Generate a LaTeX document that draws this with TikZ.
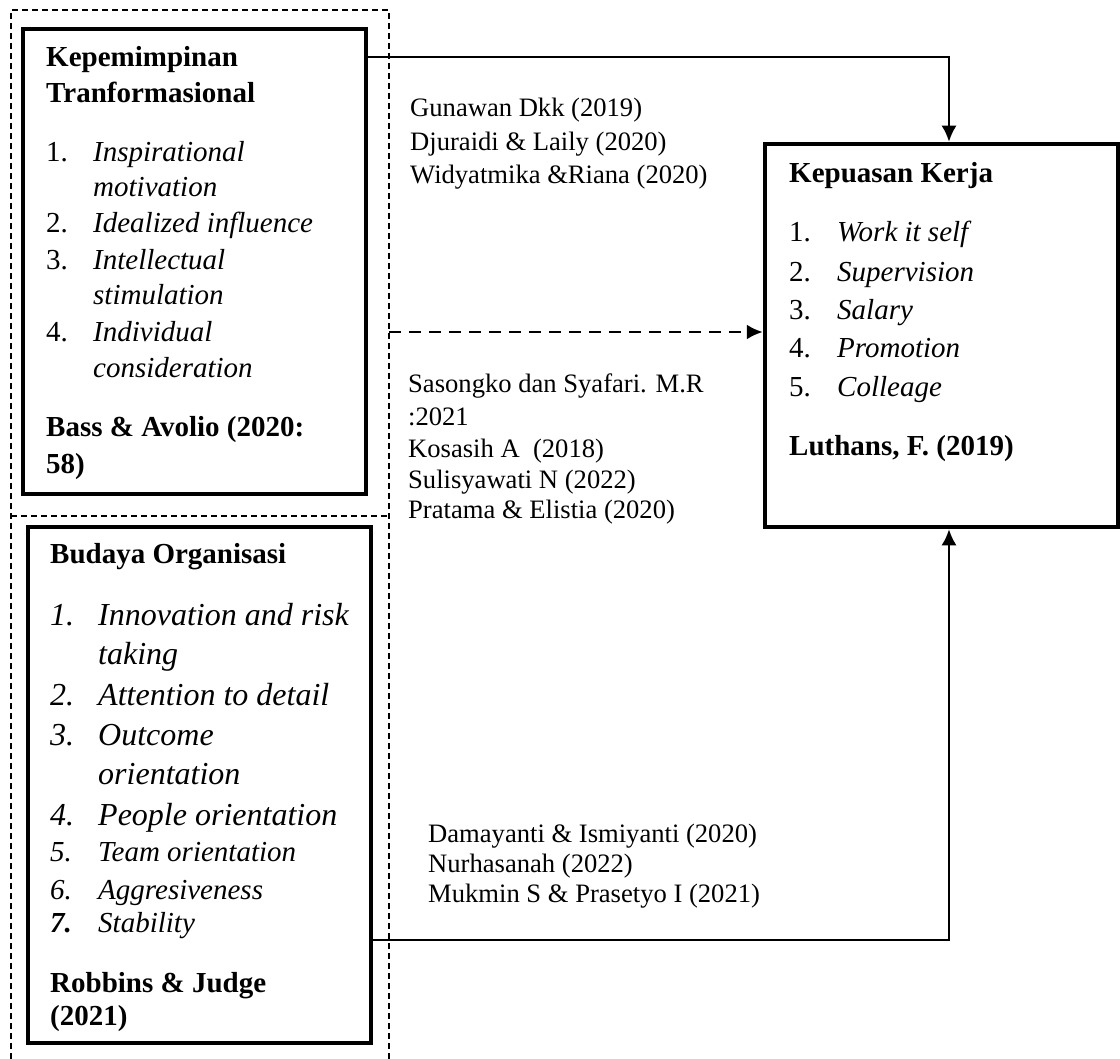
\documentclass[tikz,border=0pt]{standalone}
\usepackage{fontspec}
\setmainfont{Liberation Serif}
\usetikzlibrary{arrows.meta}
\begin{document}
\begin{tikzpicture}[x=1pt,y=-1pt,
  box/.style={draw, line width=4.5pt, inner sep=0pt},
  t/.style={anchor=base west, inner sep=0pt, font=\fontsize{29}{35}\selectfont},
  tb/.style={t, font=\fontsize{29}{35}\selectfont\bfseries},
  ti/.style={t, font=\fontsize{29}{35}\selectfont\itshape},
  tI/.style={t, font=\fontsize{32}{38}\selectfont\itshape},
  cite/.style={anchor=base west, inner sep=0pt, font=\fontsize{26.6}{32}\selectfont},
  frame/.style={line width=1.2pt, dash pattern=on 6pt off 4pt},
  arr/.style={line width=2.2pt, -{Latex[length=16pt,width=15pt]}},
  darr/.style={line width=2.5pt, dash pattern=on 12pt off 8pt, -{Latex[length=16pt,width=15pt]}}
]
\useasboundingbox (0,0) rectangle (1120,1059);

% dashed frame
\coordinate (fA) at (11,1059);
\coordinate (fB) at (11,10);
\coordinate (fC) at (389,10);
\coordinate (fD) at (389,1059);
\coordinate (fE) at (11,516);
\coordinate (fF) at (389,516);
\coordinate (fG) at (389,332);
\draw[frame] (fA) -- (fB) -- (fC) -- (fD);
\draw[frame] (fE) -- (fF);

% boxes
\node[box, minimum width=343pt, minimum height=465pt] (kp) at (194.5,261.5) {};
\node[box, minimum width=343pt, minimum height=516pt] (bo) at (199.5,785) {};
\node[box, minimum width=353pt, minimum height=383pt] (ks) at (941.5,335.5) {};

% box 1 text
\node[tb] (a1) at (46,67) {Kepemimpinan};
\node[tb] (a2) at (46,103) {Tranformasional};
\node[t]  (a3n) at (46,162) {1.};
\node[ti] (a3) at (93,162) {Inspirational};
\node[ti] (a4) at (93,197) {motivation};
\node[t]  (a5n) at (46,233) {2.};
\node[ti] (a5) at (93,233) {Idealized influence};
\node[t]  (a6n) at (46,270) {3.};
\node[ti] (a6) at (93,270) {Intellectual};
\node[ti] (a7) at (93,305) {stimulation};
\node[t]  (a8n) at (46,342) {4.};
\node[ti] (a8) at (93,342) {Individual};
\node[ti] (a9) at (93,378) {consideration};
\node[tb] (a10) at (46,437) {Bass \& Avolio (2020:};
\node[tb] (a11) at (46,473) {58)};

% box 2 text
\node[tb] (b1) at (50,563) {Budaya Organisasi};
\node[tI] (b2n) at (50,625) {1.};
\node[tI] (b2) at (98,625) {Innovation and risk};
\node[tI] (b3) at (98,664) {taking};
\node[tI] (b4n) at (50,705) {2.};
\node[tI] (b4) at (98,705) {Attention to detail};
\node[tI] (b5n) at (50,745) {3.};
\node[tI] (b5) at (98,745) {Outcome};
\node[tI] (b6) at (98,784) {orientation};
\node[tI] (b7n) at (50,825) {4.};
\node[tI] (b7) at (98,825) {People orientation};
\node[ti] (b8n) at (50,861) {5.};
\node[ti] (b8) at (98,861) {Team orientation};
\node[ti] (b9n) at (50,899) {6.};
\node[ti] (b9) at (98,899) {Aggresiveness};
\node[ti, font=\fontsize{29}{35}\selectfont\bfseries\itshape] (b10n) at (50,932) {7.};
\node[ti] (b10) at (98,932) {Stability};
\node[tb] (b11) at (50,992) {Robbins \& Judge};
\node[tb] (b12) at (50,1025) {(2021)};

% box 3 text
\node[tb] (c1) at (789,183) {Kepuasan Kerja};
\node[t]  (c2n) at (789,242) {1.};
\node[ti] (c2) at (837,242) {Work it self};
\node[t]  (c3n) at (789,282) {2.};
\node[ti] (c3) at (837,282) {Supervision};
\node[t]  (c4n) at (789,320) {3.};
\node[ti] (c4) at (837,320) {Salary};
\node[t]  (c5n) at (789,358) {4.};
\node[ti] (c5) at (837,358) {Promotion};
\node[t]  (c6n) at (789,397) {5.};
\node[ti] (c6) at (837,397) {Colleage};
\node[tb] (c7) at (789,455) {Luthans, F. (2019)};

% citations
\node[cite] (g1) at (410,117) {Gunawan Dkk (2019)};
\node[cite] (g2) at (410,151) {Djuraidi \& Laily (2020)};
\node[cite] (g3) at (410,184) {Widyatmika \&Riana (2020)};
\node[cite] (s1) at (408,393) {Sasongko dan Syafari. M.R};
\node[cite] (s2) at (408,426) {:2021};
\node[cite] (s3) at (408,457) {Kosasih A\ \ (2018)};
\node[cite] (s4) at (408,488) {Sulisyawati N (2022)};
\node[cite] (s5) at (408,518) {Pratama \& Elistia (2020)};
\node[cite] (d1) at (428,842) {Damayanti \& Ismiyanti (2020)};
\node[cite] (d2) at (428,872) {Nurhasanah (2022)};
\node[cite] (d3) at (428,902) {Mukmin S \& Prasetyo I (2021)};

% connectors
\draw[arr] (kp.east |- 0,57) -| ([xshift=7.5pt]ks.north);
\draw[darr] (fG) -- (ks.west |- fG);
\draw[arr] (bo.east |- 0,940) -| ([xshift=7.5pt]ks.south);
\end{tikzpicture}
\end{document}
